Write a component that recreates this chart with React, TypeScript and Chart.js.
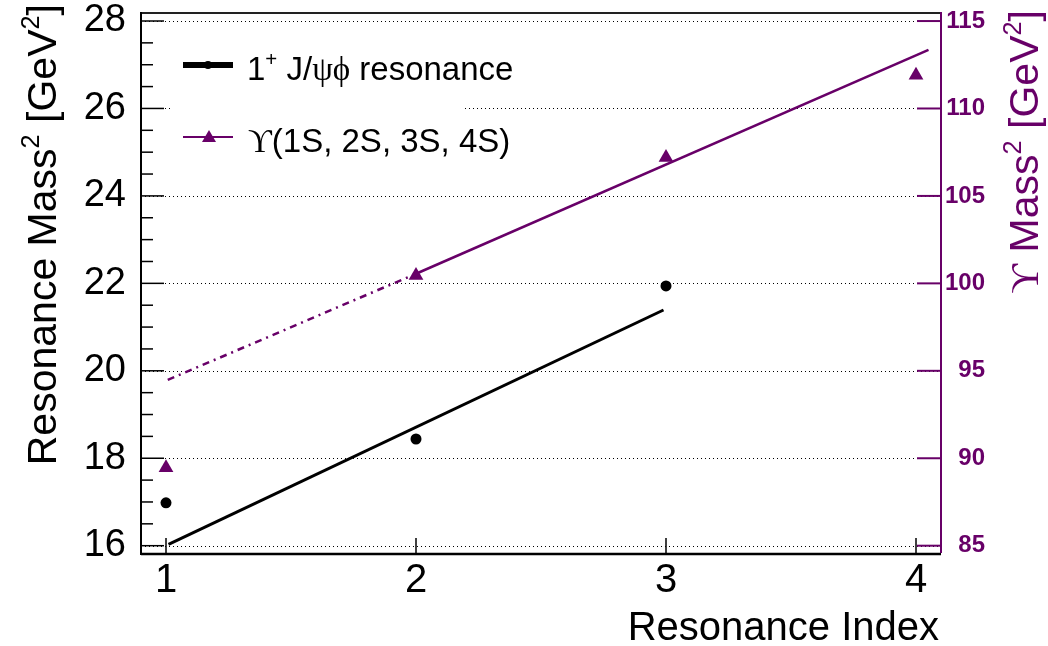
import React, { useEffect, useRef } from "react";
import { Chart, registerables } from "chart.js";

Chart.register(...registerables);

// ---------- data ----------
const jpsiIndex = [1, 2, 3];
const jpsiMass2 = [16.98, 18.44, 21.94];
const jpsiFitX = [1.01, 2.99];
const jpsiFitY = [16.03, 21.39];

const upsilonIndex = [1, 2, 3, 4];
const upsilonMass2 = [89.45, 100.45, 107.2, 111.9];
const upsilonExtrapX = [1.007, 2.0];
const upsilonExtrapY = [94.48, 100.55];
const upsilonFitX = [2.0, 4.05];
const upsilonFitY = [100.55, 113.35];

const xTicks = [1, 2, 3, 4];
const leftTicks = [16, 18, 20, 22, 24, 26, 28];
const rightTicks = [85, 90, 95, 100, 105, 110, 115];

const legendLabels = ["1+ J/ψϕ resonance", "ϒ(1S, 2S, 3S, 4S)"];

// ---------- styles ----------
const PURPLE = "#680068";
const SANS = "'Liberation Sans', Arial, Helvetica, sans-serif";
const SERIF = "'Liberation Serif', 'DejaVu Serif', 'Times New Roman', serif";

type Seg = { t: string; fam?: string; sup?: boolean };

function drawRich(
  ctx: CanvasRenderingContext2D,
  segs: Seg[],
  size: number,
  x: number,
  y: number,
  align: "left" | "right",
  color: string
) {
  ctx.save();
  ctx.fillStyle = color;
  ctx.textBaseline = "alphabetic";
  ctx.textAlign = "left";
  const fonts = segs.map((s) => `${s.sup ? size * 0.62 : size}px ${s.fam || SANS}`);
  const widths = segs.map((s, i) => {
    ctx.font = fonts[i];
    return ctx.measureText(s.t).width;
  });
  const total = widths.reduce((a, b) => a + b, 0);
  let cx = align === "right" ? x - total : x;
  segs.forEach((s, i) => {
    ctx.font = fonts[i];
    ctx.fillText(s.t, cx, y + (s.sup ? -size * 0.42 : 0));
    cx += widths[i];
  });
  ctx.restore();
}

function line(ctx: CanvasRenderingContext2D, x1: number, y1: number, x2: number, y2: number) {
  ctx.beginPath();
  ctx.moveTo(x1, y1);
  ctx.lineTo(x2, y2);
  ctx.stroke();
}

const decor = {
  id: "decor",
  beforeDatasetsDraw(chart: any) {
    const { ctx, chartArea: a, scales } = chart;
    ctx.save();
    ctx.strokeStyle = "#000";
    ctx.lineWidth = 1;
    ctx.setLineDash([1, 3]);
    leftTicks.forEach((v) => {
      const py = Math.round(scales.y.getPixelForValue(v)) + 0.5;
      line(ctx, a.left, py, a.right, py);
    });
    ctx.restore();
  },
  afterDatasetsDraw(chart: any) {
    const { ctx } = chart;
    ctx.save();
    // legend box
    ctx.fillStyle = "#fff";
    ctx.fillRect(172, 28, 290, 160);
    // row 1
    ctx.strokeStyle = "#000";
    ctx.lineWidth = 6;
    line(ctx, 183, 65, 233, 65);
    ctx.fillStyle = "#000";
    ctx.beginPath();
    ctx.arc(208, 65, 4, 0, Math.PI * 2);
    ctx.fill();
    const l1 = legendLabels[0];
    drawRich(
      ctx,
      [
        { t: l1.slice(0, 1) },
        { t: l1.slice(1, 2), sup: true },
        { t: l1.slice(2, 5) },
        { t: l1.slice(5, 7), fam: SERIF },
        { t: l1.slice(7) },
      ],
      33,
      247,
      80,
      "left",
      "#000"
    );
    // row 2
    ctx.strokeStyle = PURPLE;
    ctx.lineWidth = 2;
    line(ctx, 183, 137, 233, 137);
    ctx.fillStyle = PURPLE;
    ctx.beginPath();
    ctx.moveTo(209, 130);
    ctx.lineTo(202, 142);
    ctx.lineTo(216, 142);
    ctx.closePath();
    ctx.fill();
    const l2 = legendLabels[1];
    drawRich(ctx, [{ t: l2.slice(0, 1), fam: SERIF }, { t: l2.slice(1) }], 33, 248, 152, "left", "#000");
    ctx.restore();
  },
  afterDraw(chart: any) {
    const { ctx, chartArea: a, scales } = chart;
    ctx.save();
    // left ticks (major + minor)
    ctx.strokeStyle = "#000";
    ctx.lineWidth = 1.5;
    for (let v = 16; v <= 28.001; v += 0.5) {
      const py = scales.y.getPixelForValue(v);
      const len = Math.abs(v % 2) < 1e-6 ? 23 : 12;
      line(ctx, a.left, py, a.left + len, py);
    }
    // x ticks
    xTicks.forEach((v) => {
      const px = scales.x.getPixelForValue(v);
      line(ctx, px, a.bottom, px, a.bottom - 16);
    });
    // right ticks
    ctx.strokeStyle = PURPLE;
    ctx.lineWidth = 2;
    rightTicks.forEach((v) => {
      const py = scales.y1.getPixelForValue(v);
      line(ctx, a.right - 24, py, a.right, py);
    });
    // frame
    ctx.lineWidth = 2;
    ctx.strokeStyle = "#222";
    line(ctx, a.left, a.top, a.right, a.top);
    ctx.strokeStyle = "#000";
    line(ctx, a.left, a.top - 1, a.left, a.bottom + 1);
    ctx.lineWidth = 2.5;
    line(ctx, a.left, a.bottom, a.right, a.bottom);
    ctx.lineWidth = 2;
    ctx.strokeStyle = PURPLE;
    line(ctx, a.right, a.top - 1, a.right, a.bottom - 1);

    // left title
    ctx.save();
    ctx.translate(56, 4);
    ctx.rotate(-Math.PI / 2);
    drawRich(
      ctx,
      [{ t: "Resonance Mass" }, { t: "2", sup: true }, { t: " [GeV" }, { t: "2", sup: true }, { t: "]" }],
      41,
      0,
      0,
      "right",
      "#000"
    );
    ctx.restore();
    // right title
    ctx.save();
    ctx.translate(1038, 10);
    ctx.rotate(-Math.PI / 2);
    drawRich(
      ctx,
      [
        { t: "ϒ", fam: SERIF },
        { t: " Mass" },
        { t: "2", sup: true },
        { t: " [GeV" },
        { t: "2", sup: true },
        { t: "]" },
      ],
      41,
      0,
      0,
      "right",
      PURPLE
    );
    ctx.restore();
    // x title
    drawRich(ctx, [{ t: "Resonance Index" }], 40, 939, 640, "right", "#000");
    ctx.restore();
  },
};

export default function App() {
  const ref = useRef<HTMLCanvasElement | null>(null);
  useEffect(() => {
    if (!ref.current) return;
    const pts = (xs: number[], ys: number[]) => xs.map((x, i) => ({ x, y: ys[i] }));
    const chart = new Chart(ref.current, {
      type: "scatter",
      data: {
        datasets: [
          {
            label: legendLabels[0],
            data: pts(jpsiIndex, jpsiMass2),
            yAxisID: "y",
            pointRadius: 5.5,
            backgroundColor: "#000",
            borderColor: "#000",
            borderWidth: 0,
            showLine: false,
          },
          {
            label: legendLabels[1],
            data: pts(upsilonIndex, upsilonMass2),
            yAxisID: "y1",
            pointStyle: "triangle",
            pointRadius: 8.5,
            backgroundColor: PURPLE,
            borderColor: PURPLE,
            borderWidth: 0,
            showLine: false,
          },
          {
            label: "J/ψϕ fit",
            data: pts(jpsiFitX, jpsiFitY),
            yAxisID: "y",
            showLine: true,
            pointRadius: 0,
            borderColor: "#000",
            borderWidth: 3,
          },
          {
            label: "ϒ extrapolation",
            data: pts(upsilonExtrapX, upsilonExtrapY),
            yAxisID: "y1",
            showLine: true,
            pointRadius: 0,
            borderColor: PURPLE,
            borderWidth: 2.5,
            borderDash: [7, 5, 2, 5],
          },
          {
            label: "ϒ fit",
            data: pts(upsilonFitX, upsilonFitY),
            yAxisID: "y1",
            showLine: true,
            pointRadius: 0,
            borderColor: PURPLE,
            borderWidth: 2.5,
          },
        ],
      },
      options: {
        animation: false,
        responsive: false,
        events: [],
        layout: { padding: { top: 13, right: 63, left: 0, bottom: 0 } },
        plugins: { legend: { display: false }, tooltip: { enabled: false } },
        scales: {
          x: {
            type: "linear",
            min: 0.9,
            max: 4.1,
            afterBuildTicks: (s: any) => {
              s.ticks = xTicks.map((v) => ({ value: v }));
            },
            afterFit: (s: any) => {
              s.height = 92;
              s.paddingLeft = 0;
              s.paddingRight = 0;
            },
            grid: { display: false },
            border: { display: false },
            ticks: {
              font: { family: SANS, size: 40 },
              color: "#000",
              padding: -5,
              maxRotation: 0,
              autoSkip: false,
            },
          },
          y: {
            type: "linear",
            position: "left",
            min: 15.81,
            max: 28.183,
            afterBuildTicks: (s: any) => {
              s.ticks = leftTicks.map((v) => ({ value: v }));
            },
            afterFit: (s: any) => {
              s.width = 141;
              s.paddingTop = 0;
              s.paddingBottom = 0;
            },
            grid: { display: false },
            border: { display: false },
            ticks: { font: { family: SANS, size: 38 }, color: "#000", padding: 7 },
          },
          y1: {
            type: "linear",
            position: "right",
            min: 84.525,
            max: 115.46,
            afterBuildTicks: (s: any) => {
              s.ticks = rightTicks.map((v) => ({ value: v }));
            },
            afterFit: (s: any) => {
              s.width = 44;
              s.paddingTop = 0;
              s.paddingBottom = 0;
            },
            grid: { display: false },
            border: { display: false },
            ticks: {
              font: { family: SANS, size: 24, weight: "bold" },
              color: PURPLE,
              padding: 3,
              crossAlign: "far",
            },
          },
        },
      },
      plugins: [decor],
    } as any);
    return () => chart.destroy();
  }, []);
  return (
    <div style={{ position: "fixed", left: 0, top: 0, width: 1048, height: 646, background: "#fff" }}>
      <canvas ref={ref} width={1048} height={646} style={{ display: "block" }} />
    </div>
  );
}
